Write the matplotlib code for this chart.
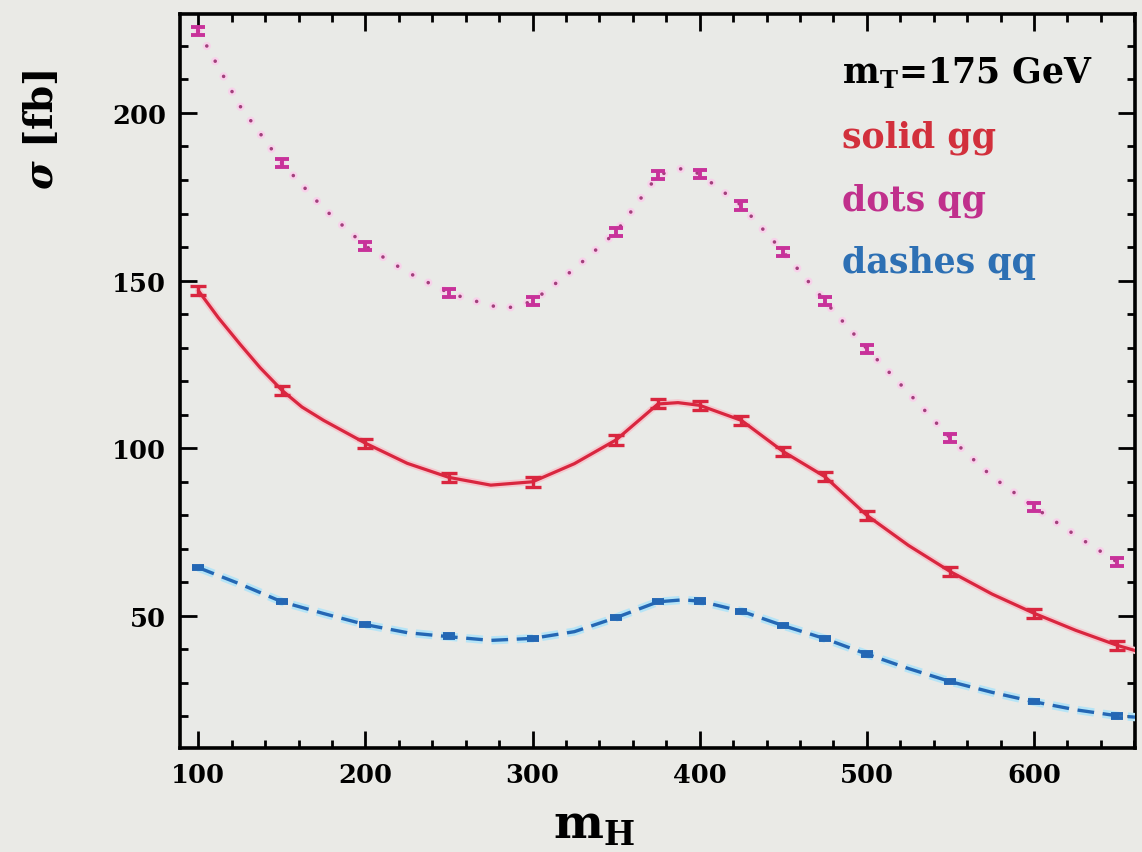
import numpy as np
import matplotlib
matplotlib.use("Agg")
import matplotlib.pyplot as plt
import matplotlib.patheffects as pe
from matplotlib.ticker import MultipleLocator

plt.rcParams['font.family'] = ['DejaVu Serif']
plt.rcParams['font.weight'] = 'bold'
plt.rcParams['mathtext.fontset'] = 'custom'
plt.rcParams['mathtext.rm'] = 'DejaVu Serif:bold'
plt.rcParams['mathtext.it'] = 'DejaVu Serif:bold:italic'

# Monte Carlo points (m_H in GeV, sigma in fb)
mh_pts = [100, 150, 200, 250, 300, 350, 375, 400, 425, 450, 475, 500, 550, 600, 650]
gg_pts = [147.0, 117.3, 101.5, 91.2, 89.9, 102.5, 113.3, 112.8, 108.3, 99.0, 91.5, 80.0, 63.2, 50.8, 41.2]
qg_pts = [224.4, 185.0, 160.3, 146.3, 143.8, 164.5, 181.5, 181.8, 172.4, 158.6, 143.8, 129.7, 103.0, 82.5, 66.0]
qq_pts = [64.4, 54.2, 47.5, 44.0, 43.3, 49.5, 54.2, 54.4, 51.4, 47.1, 43.2, 38.6, 30.4, 24.4, 20.2]
gg_err = 1.4
qg_err = 1.2
qq_err = 0.5

# fitted curves
mh_gg = [100, 112, 125, 137, 150, 162, 175, 200, 225, 250, 275, 300, 325, 350, 375, 387, 400, 425, 450, 475, 500, 525, 550, 575, 600, 625, 650, 661]
gg_fit = [147.0, 138.9, 131.0, 124.0, 117.3, 112.3, 108.3, 101.5, 95.5, 91.3, 89.0, 90.0, 95.4, 102.5, 113.2, 113.6, 112.8, 108.3, 99.0, 91.5, 80.0, 71.0, 63.2, 56.5, 50.8, 45.7, 41.2, 39.6]
mh_qg = [100, 125, 150, 175, 200, 225, 250, 275, 285, 300, 325, 350, 375, 390, 400, 425, 450, 475, 500, 525, 550, 575, 600, 625, 650]
qg_fit = [224.5, 202.0, 185.0, 171.5, 160.3, 152.5, 146.3, 142.5, 141.8, 143.8, 153.5, 164.5, 181.5, 183.5, 181.8, 172.4, 158.6, 143.8, 129.7, 116.5, 103.0, 91.5, 82.5, 74.0, 66.0]
mh_qq = [100, 125, 150, 175, 200, 225, 250, 275, 300, 325, 350, 375, 390, 400, 425, 450, 475, 500, 525, 550, 575, 600, 625, 650, 661]
qq_fit = [64.4, 59.5, 54.2, 50.7, 47.4, 45.0, 43.8, 42.7, 43.3, 45.3, 49.5, 54.2, 54.8, 54.4, 51.4, 47.1, 43.2, 38.6, 34.3, 30.4, 27.2, 24.4, 22.0, 20.2, 19.8]

c_gg = '#d9263f'
c_qg = '#c8329a'
c_qq = '#2467b4'

fig = plt.figure(figsize=(11.42, 8.53), dpi=100, facecolor='#eaeae6')
ax = fig.add_axes([0.1576, 0.1219, 0.8363, 0.8605])
ax.set_facecolor('#e9eae7')

halo_gg = [pe.Stroke(linewidth=5, foreground='#f4c9cf'), pe.Normal()]
halo_qg = [pe.Stroke(linewidth=6, foreground='#f7d2ea'), pe.Normal()]
halo_qq = [pe.Stroke(linewidth=6, foreground='#b6e4f6'), pe.Normal()]

ax.plot(mh_gg, gg_fit, color=c_gg, lw=2.3, solid_capstyle='round', solid_joinstyle='round',
        path_effects=halo_gg, zorder=3)
ax.plot(mh_qg, qg_fit, color='#a33f7c', lw=2.6, linestyle=(0, (0.01, 4.8)),
        dash_capstyle='round', path_effects=halo_qg, zorder=3)
ax.plot(mh_qq, qq_fit, color=c_qq, lw=2.4, linestyle=(0, (5.0, 2.6)),
        path_effects=halo_qq, zorder=3)

ax.errorbar(mh_pts, gg_pts, yerr=gg_err, fmt='none', ecolor=c_gg, elinewidth=2.4,
            capsize=6, capthick=2.4, zorder=4)
ax.errorbar(mh_pts, qg_pts, yerr=qg_err, fmt='none', ecolor=c_qg, elinewidth=2.8,
            capsize=5, capthick=2.8, zorder=4)
ax.errorbar(mh_pts, qq_pts, yerr=qq_err, fmt='none', ecolor=c_qq, elinewidth=2.8,
            capsize=4, capthick=2.8, zorder=4)

ax.set_xlim(89, 660.5)
ax.set_ylim(10.6, 229.5)
ax.xaxis.set_major_locator(MultipleLocator(100))
ax.xaxis.set_minor_locator(MultipleLocator(20))
ax.yaxis.set_major_locator(MultipleLocator(50))
ax.yaxis.set_minor_locator(MultipleLocator(10))
ax.tick_params(which='both', direction='in', top=True, right=True, width=2.0, color='black')
ax.tick_params(which='major', length=12, labelsize=18.5, pad=10)
ax.tick_params(which='minor', length=6)
for s in ax.spines.values():
    s.set_linewidth(2.6)
for lab in ax.get_xticklabels() + ax.get_yticklabels():
    lab.set_fontweight('heavy')

fig.text(0.036, 0.848, r'$\sigma$ [fb]', rotation=90, ha='center', va='center', fontsize=28)
fig.text(0.52, 0.032, r'$\mathrm{m_H}$', ha='center', va='center', fontsize=34)

ax.text(0.693, 0.907, r'$\mathrm{m_T}$=175 GeV', transform=ax.transAxes, fontsize=25,
        color='black', va='baseline')
ax.text(0.693, 0.820, 'solid gg', transform=ax.transAxes, fontsize=25, color='#d2303c',
        va='baseline')
ax.text(0.693, 0.734, 'dots qg', transform=ax.transAxes, fontsize=25, color='#c0308c',
        va='baseline')
ax.text(0.693, 0.648, 'dashes qq', transform=ax.transAxes, fontsize=25, color='#2d70b4',
        va='baseline')

fig.savefig('out.png', dpi=100, facecolor=fig.get_facecolor())
